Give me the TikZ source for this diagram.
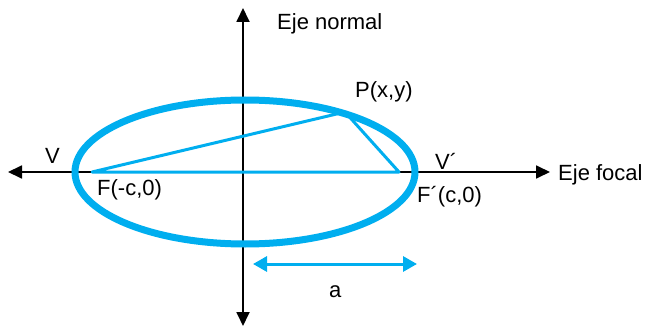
\documentclass[tikz,border=0pt]{standalone}
\usepackage{fontspec}
\setmainfont{Liberation Sans}
\usetikzlibrary{arrows.meta}

\definecolor{elipse}{RGB}{0,174,239}

\begin{document}
\begin{tikzpicture}[
    x=1pt, y=-1pt,
    eje/.style={{Triangle[length=14pt,width=13pt]}-{Triangle[length=14pt,width=13pt]}, line width=1.8pt, black},
    curva/.style={draw=elipse, line width=7pt},
    seg/.style={draw=elipse, line width=3pt, line join=round},
    medida/.style={{Triangle[length=14pt,width=15pt]}-{Triangle[length=14pt,width=15pt]}, line width=3pt, elipse},
    lbl/.style={anchor=base west, inner sep=0pt, font=\fontsize{22}{25}\selectfont}
]
    \useasboundingbox (0,0) rectangle (645,326);
    % ejes
    \coordinate (izq) at (8,172);
    \coordinate (der) at (550,172);
    \coordinate (arr) at (243,8);
    \coordinate (aba) at (243,326);
    \draw[eje] (izq) -- (der);
    \draw[eje] (aba) -- (arr);
    % elipse
    \draw[curva] (245,172) ellipse [x radius=170, y radius=72];
    % focos y punto
    \coordinate (F)  at (92,172);
    \coordinate (Fp) at (399,172);
    \coordinate (P)  at (345,112);
    \draw[seg] (F) -- (Fp) -- (P) -- cycle;
    % semieje
    \coordinate (a1) at (253,264);
    \coordinate (a2) at (417,264);
    \draw[medida] (a1) -- (a2);
    % textos
    \node[lbl] (normal) at (277,30)  {Eje normal};
    \node[lbl] (focal)  at (558,180) {Eje focal};
    \node[lbl] (V)      at (45,163)  {V};
    \node[lbl] (Vp)     at (435,169) {V´};
    \node[lbl] (Fl)     at (97,195)  {F(-c,0)};
    \node[lbl] (Fpl)    at (417,202) {F´(c,0)};
    \node[lbl] (Pl)     at (355,98)  {P(x,y)};
    \node[lbl] (al)     at (329,297) {a};
\end{tikzpicture}
\end{document}
